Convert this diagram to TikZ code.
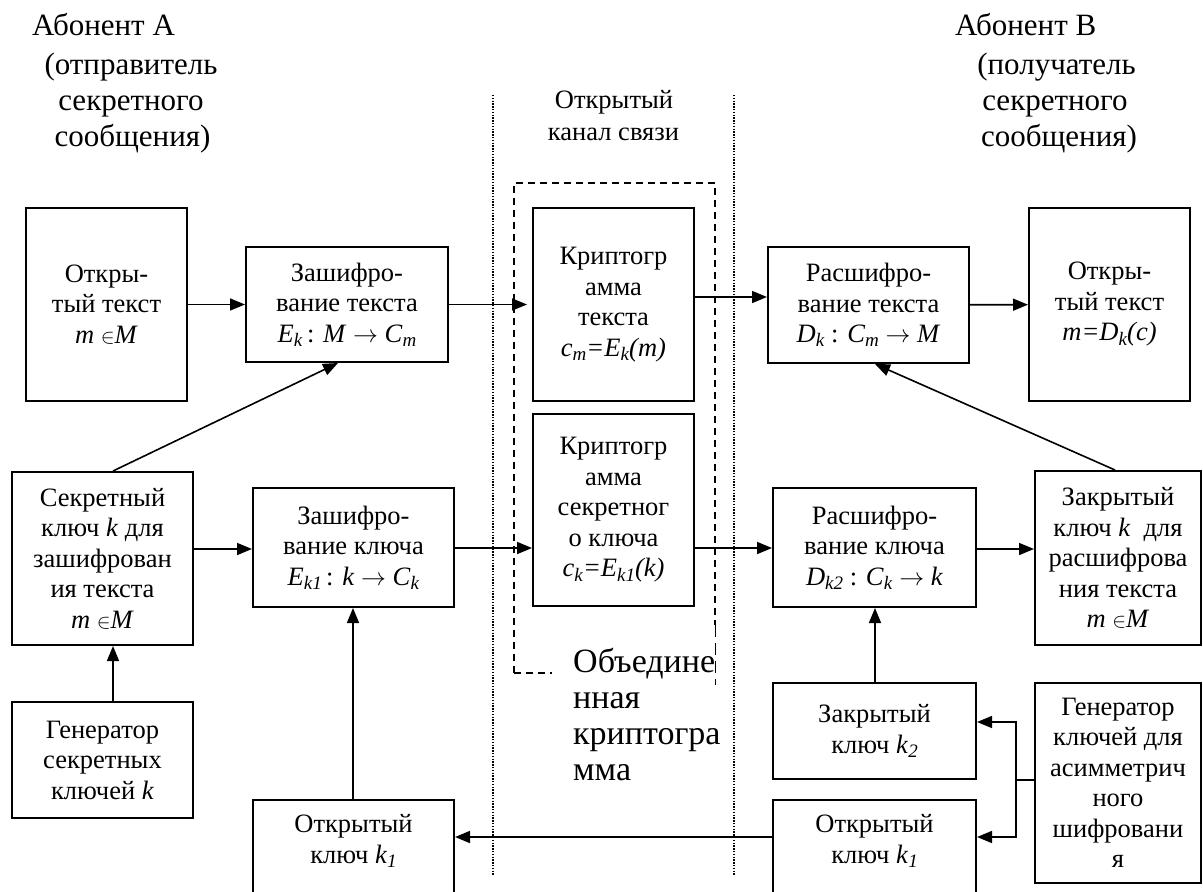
\documentclass[tikz,border=0pt]{standalone}
\usepackage{fontspec}
\setmainfont{Liberation Serif}
\usetikzlibrary{arrows.meta}
\newcommand\lowsub[1]{\raisebox{-0.35ex}{\fontsize{19pt}{19pt}\selectfont\textit{#1}}}
\newcommand\elem{{\fontsize{20pt}{20pt}\selectfont$\in$}}
\begin{document}
\begin{tikzpicture}[x=1pt,y=-1pt,
  box/.style={draw, line width=2pt, inner sep=0pt, align=center, font=\fontsize{26.5pt}{30.5pt}\selectfont},
  boxtext/.style={inner sep=0pt, align=center, font=\fontsize{26.5pt}{30.5pt}\selectfont},
  arr/.style={line width=1.6pt, -{Triangle[length=15pt,width=12pt]}},
  plain/.style={line width=1.6pt},
  head/.style={font=\fontsize{31pt}{36pt}\selectfont, inner sep=0pt, anchor=base},
  uni/.style={font=\fontsize{34pt}{36pt}\selectfont, inner sep=0pt, anchor=base west},
  lbl/.style={font=\fontsize{26.5pt}{32pt}\selectfont, inner sep=0pt, anchor=base},
  chan/.style={line width=1.2pt, dash pattern=on 1.3pt off 1.5pt},
  grp/.style={line width=1.6pt, dash pattern=on 7pt off 5pt}]
\useasboundingbox (0,0) rectangle (1203,892);
% headers
\node[head, anchor=base west] (ha1) at (32,35) {Абонент А};
\node[head] (ha2) at (131,74) {(отправитель};
\node[head] (ha3) at (131,110) {секретного};
\node[head] (ha4) at (132.5,146) {сообщения)};
\node[head, anchor=base west] (hb1) at (955,35) {Абонент В};
\node[head] (hb2) at (1056.5,74) {(получатель};
\node[head] (hb3) at (1055,110) {секретного};
\node[head] (hb4) at (1059,146) {сообщения)};
\node[lbl] (ch1) at (614,108) {Открытый};
\node[lbl] (ch2) at (613.5,140) {канал связи};
% channel lines and group
\draw[chan] (493,95) -- (493,875);
\draw[chan] (734,95) -- (734,875);
\draw[grp] (514,673) -- (514,183) -- (715,183) -- (715,625);
\draw[line width=0.8pt, dash pattern=on 12pt off 6pt] (715,625) -- (715,685);
\draw[grp] (514,673) -- (552,673);
\node[uni] (u1) at (573,672) {Объедине};
\node[uni] (u2) at (573,708) {нная};
\node[uni] (u3) at (573,744) {криптогра};
\node[uni] (u4) at (573,780) {мма};
% sender side
\node[box, minimum width=161pt, minimum height=193pt] (a1) at (106.5,304.5)
  {Откры-\\тый текст\\\textit{m} \elem\textit{M}};
\node[box, minimum width=202pt, minimum height=115pt] (a2) at (347,304.5)
  {Зашифро-\\вание текста\\\textit{E}\lowsub{k}\,: \textit{M} $\rightarrow$ \textit{C}\lowsub{m}};
\node[box, minimum width=181pt, minimum height=173pt] (a3) at (102.5,558.5)
  {Секретный\\ключ \textit{k} для\\зашифрован\\ия текста\\\textit{m} \elem\textit{M}};
\node[box, minimum width=181pt, minimum height=116pt] (a4) at (102.5,760)
  {Генератор\\секретных\\ключей \textit{k}};
\node[box, minimum width=201pt, minimum height=119pt] (a5) at (353.5,547.5)
  {Зашифро-\\вание ключа\\\textit{E}\lowsub{k1}\,: \textit{k} $\rightarrow$ \textit{C}\lowsub{k}};
\node[box, minimum width=201pt, minimum height=110pt, anchor=north] (a6) at (353.5,799) {};
\node[boxtext] (a6t) at (353.5,841) {Открытый\\ключ \textit{k}\lowsub{1}};
% channel boxes
\node[box, minimum width=161pt, minimum height=193pt] (m1) at (613.5,304.5)
  {Криптогр\\амма\\текста\\\textit{c}\lowsub{m}\textit{=E}\lowsub{k}\textit{(m)}};
\node[box, minimum width=161pt, minimum height=192pt] (m2) at (613.5,510)
  {Криптогр\\амма\\секретног\\о ключа\\\textit{c}\lowsub{k}\textit{=E}\lowsub{k1}\textit{(k)}};
% receiver side
\node[box, minimum width=201pt, minimum height=116pt] (b1) at (868.5,305)
  {Расшифро-\\вание текста\\\textit{D}\lowsub{k} : \textit{C}\lowsub{m} $\rightarrow$ \textit{M}};
\node[box, minimum width=161pt, minimum height=193pt] (b2) at (1109.5,304.5)
  {Откры-\\тый текст\\\textit{m=D}\lowsub{k}\textit{(c)}};
\node[box, minimum width=166pt, minimum height=174pt] (b3) at (1118,558)
  {Закрытый\\ключ \textit{k}\ \ для\\расшифрова\\ния текста\\\textit{m} \elem\textit{M}};
\node[box, minimum width=203pt, minimum height=119pt] (b4) at (874.5,547.5)
  {Расшифро-\\вание ключа\\\textit{D}\lowsub{k2} : \textit{C}\lowsub{k} $\rightarrow$ \textit{k}};
\node[box, minimum width=203pt, minimum height=96pt] (b5) at (874.5,731)
  {Закрытый\\ключ \textit{k}\lowsub{2}};
\node[box, minimum width=203pt, minimum height=110pt, anchor=north] (b6) at (874.5,799) {};
\node[boxtext] (b6t) at (874.5,841) {Открытый\\ключ \textit{k}\lowsub{1}};
\node[box, minimum width=166pt, minimum height=200pt] (b7) at (1118,783)
  {Генератор\\ключей для\\асимметрич\\ного\\шифровани\\я};
% connectors
\draw[arr] (a1) -- (a2);
\draw[arr] (a3.north -| 113,0) -- (a2.south -| 338,0);
\draw[arr] (a4.north -| 113,0) -- (a3.south -| 113,0);
\draw[arr] (a3.east |- 0,549) -- (a5.west |- 0,549);
\draw[arr, shorten >=5pt] (a2.east) -- (m1.west |- a2.east);
\draw[arr] (m1.east |- 0,297) -- (b1.west |- 0,297);
\draw[arr] (a5.east |- 0,548) -- (m2.west |- 0,548);
\draw[arr] (m2.east |- 0,548) -- (b4.west |- 0,548);
\draw[arr] (b1) -- (b2);
\draw[arr] (b3.north -| 1115,0) -- (b1.south -| 875,0);
\draw[arr] (b4.east |- 0,549) -- (b3.west |- 0,549);
\draw[arr] (b5.north -| 875,0) -- (b4.south -| 875,0);
\coordinate (j) at (1016,780);
\draw[plain] (b7.west |- j) -- (j);
\draw[arr] (j) |- (b5.east |- 0,722);
\draw[arr] (j) |- (b6.east |- 0,837);
\draw[arr] (b6.west |- 0,837) -- (a6.east |- 0,837);
\draw[arr] (a6.north -| 353,0) -- (a5.south -| 353,0);
\end{tikzpicture}
\end{document}
